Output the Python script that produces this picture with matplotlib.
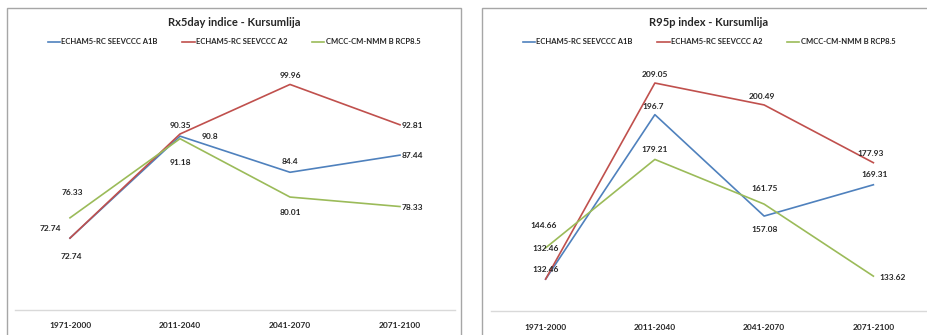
import matplotlib
matplotlib.use("Agg")
import matplotlib.pyplot as plt
from matplotlib.patches import Rectangle

periods = ["1971-2000", "2011-2040", "2041-2070", "2071-2100"]
series_names = ["ECHAM5-RC SEEVCCC A1B", "ECHAM5-RC SEEVCCC A2", "CMCC-CM-NMM B RCP8.5"]

rx5_blue = [72.74, 90.8, 84.4, 87.44]
rx5_red = [72.74, 91.18, 99.96, 92.81]
rx5_green = [76.33, 90.35, 80.01, 78.33]

r95_blue = [132.46, 196.7, 157.08, 169.31]
r95_red = [132.46, 209.05, 200.49, 177.93]
r95_green = [144.66, 179.21, 161.75, 133.62]

titles = ["Rx5day indice - Kursumlija", "R95p index - Kursumlija"]

colors = ["#4F81BD", "#C0504D", "#9BBB59"]
W, H = 927, 335
plt.rcParams['font.family'] = ['Lato', 'DejaVu Sans']

fig = plt.figure(figsize=(W / 100, H / 100), dpi=100)
fig.patch.set_facecolor("white")

# label offsets in pixels (dx, dy, ha) per series per point
left_offsets = [
    [(-20, 10, 'center'), (30, 0, 'center'), (0, 11, 'center'), (2, 0, 'left')],
    [(1, -18, 'center'), (0, -28, 'center'), (0, 9, 'center'), (2, -1, 'left')],
    [(2, 25, 'center'), (0, 13, 'center'), (0, -15, 'center'), (2, -1, 'left')],
]
right_offsets = [
    [(0, 31, 'center'), (-2, 8, 'center'), (0, -13, 'center'), (1, 10, 'center')],
    [(0, 10, 'center'), (0, 9, 'center'), (-2, 8, 'center'), (-3, 9, 'center')],
    [(-2, 22, 'center'), (0, 10, 'center'), (0, 16, 'center'), (6, -1, 'left')],
]

panels = [
    dict(frame=(7, 8, 454), ax=(15, 310, 440, 254), ylim=(60, 105),
         data=[rx5_blue, rx5_red, rx5_green], offs=left_offsets, cx=234),
    dict(frame=(482, 8, 460), ax=(491, 311, 437, 256), ylim=(120, 220),
         data=[r95_blue, r95_red, r95_green], offs=right_offsets, cx=709),
]

for i, p in enumerate(panels):
    fx, fy, fw = p["frame"]
    fig.patches.append(Rectangle((fx / W, -0.1), fw / W, (H - fy) / H + 0.1,
                                 transform=fig.transFigure, fill=False,
                                 edgecolor="#a6a6a6", linewidth=1.0))
    axl, axb, axw, axh = p["ax"]
    ax = fig.add_axes([axl / W, (H - axb) / H, axw / W, axh / H])
    ax.set_facecolor("none")
    x = list(range(len(periods)))
    for s, (vals, col) in enumerate(zip(p["data"], colors)):
        ax.plot(x, vals, color=col, lw=1.2, label=series_names[s], zorder=3 + s * 0.1)
        for j, v in enumerate(vals):
            dx, dy, ha = p["offs"][s][j]
            ax.annotate(f"{v:g}", (j, v), xytext=(dx, dy), textcoords="offset pixels",
                        ha=ha, va="center", fontsize=6, fontweight="bold", color="#262626",
                        zorder=5)
    ax.set_xlim(-0.5, 3.5)
    ax.set_ylim(*p["ylim"])
    ax.set_xticks(x)
    ax.set_xticklabels(periods, fontsize=6, fontweight="bold", color="#262626")
    ax.tick_params(axis="x", length=0, pad=9)
    ax.set_yticks([])
    for side in ["left", "right", "top"]:
        ax.spines[side].set_visible(False)
    ax.spines["bottom"].set_color("#d9d9d9")
    ax.spines["bottom"].set_linewidth(1.0)
    fig.text(p["cx"] / W, 1 - 22 / H, titles[i], ha="center", va="center",
             fontsize=8, fontweight="bold", color="#262626")
    ax.legend(loc="center", bbox_to_anchor=(p["cx"] / W, 1 - 42 / H),
              bbox_transform=fig.transFigure, ncol=3, frameon=False,
              prop=dict(size=5.5, weight="bold"), labelcolor="#262626",
              handlelength=1.6, handletextpad=0.2, columnspacing=3.2)

fig.savefig("out.png", dpi=100)
